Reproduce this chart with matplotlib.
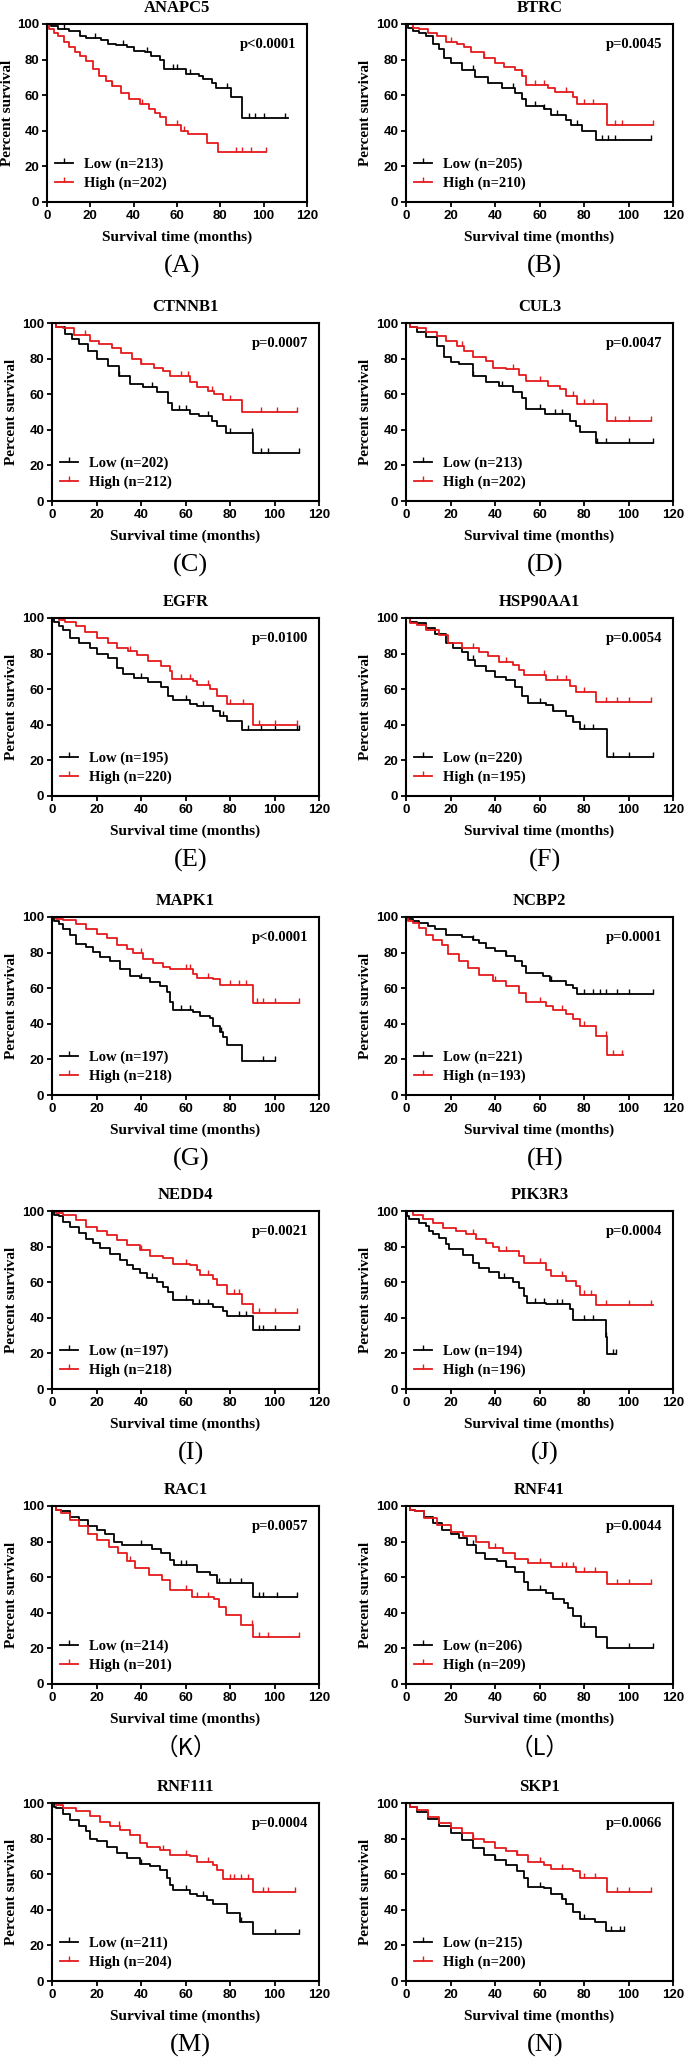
import numpy as np
import matplotlib
matplotlib.use("Agg")
import matplotlib.pyplot as plt
from matplotlib.lines import Line2D

# ---- data (time in months, percent survival) ----
ANAPC5_low_t = [0, 2, 5, 10, 15, 18, 25, 28, 32, 37, 40, 45, 48, 52, 54, 64, 70, 72, 76, 78, 85, 90, 111]
ANAPC5_low_s = [100, 99, 97, 96, 93, 92, 91, 89, 88, 87, 85, 84, 82, 80, 75, 72, 71, 69, 67, 64, 59, 47, 47]
ANAPC5_high_t = [0, 1, 3, 5, 8, 10, 13, 15, 18, 21, 24, 27, 30, 34, 38, 43, 47, 50, 52, 55, 62, 65, 74, 79, 101]
ANAPC5_high_s = [100, 97, 95, 93, 90, 87, 84, 82, 79, 75, 71, 68, 65, 61, 58, 55, 52, 50, 48, 43, 40, 38, 33, 28, 28]
ANAPC5_low_cens = [8, 22, 35, 46, 58, 60, 66, 83, 93, 96, 100, 110]
ANAPC5_high_cens = [30, 44, 60, 63, 87, 90, 94, 101]

BTRC_low_t = [0, 1, 3, 6, 9, 12, 15, 17, 20, 25, 31, 37, 43, 49, 52, 54, 62, 65, 72, 74, 79, 85.5, 110]
BTRC_low_s = [100, 98, 96, 95, 93, 89, 86, 81, 78, 74, 70, 67, 64, 61, 58, 54, 52, 49, 46, 43, 40, 35, 35]
BTRC_high_t = [0, 3, 6, 10, 14, 18, 23, 26, 29, 35, 40, 44, 49, 52, 54, 64, 67, 75, 77, 90.5, 111]
BTRC_high_s = [100, 98, 97, 95, 93, 90, 89, 87, 84, 81, 78, 76, 74, 71, 66, 64, 62, 59, 55, 43, 43]
BTRC_low_cens = [30, 48, 58, 62, 68, 77, 88, 91, 94, 110]
BTRC_high_cens = [20, 35, 52, 58, 62, 72, 80, 84, 94, 97, 111]

CTNNB1_low_t = [0, 2, 6, 9, 12, 16, 20, 25, 30, 35, 41, 47, 52, 54, 62, 66, 72, 74, 78, 90.5, 111]
CTNNB1_low_s = [100, 98, 94, 91, 88, 84, 80, 76, 70, 66, 64, 61, 55, 51, 49, 48, 45, 42, 38, 27, 27]
CTNNB1_high_t = [0, 2, 5, 10, 17, 21, 27, 31, 36, 40, 46, 50, 53, 62, 65, 70, 73, 77, 85.5, 110]
CTNNB1_high_s = [100, 98, 97, 93, 90, 88, 86, 83, 80, 77, 75, 73, 70, 67, 64, 62, 60, 57, 50, 50]
CTNNB1_low_cens = [30, 45, 57, 60, 70, 80, 90, 94, 97, 111]
CTNNB1_high_cens = [15, 40, 58, 61, 72, 80, 94, 101, 110]

CUL3_low_t = [0, 2, 5, 9, 14, 17, 20, 24, 30, 36, 42, 48, 52, 54, 62.5, 73.5, 76.5, 78, 85.5, 111]
CUL3_low_s = [100, 98, 95, 92, 87, 81, 78, 77, 70, 67, 64.5, 61, 58, 51.5, 48.7, 45, 42, 39, 32.5, 32.5]
CUL3_high_t = [0, 2, 5, 9, 14, 18, 23, 26, 30, 36, 39, 45, 51, 54, 64, 69, 72, 77, 90.5, 110]
CUL3_high_s = [100, 98, 97, 95, 92.5, 90, 87, 84, 81, 78.5, 75, 74, 71, 67.5, 64.5, 63, 59, 54.5, 45, 45]
CUL3_low_cens = [30, 43, 60, 67, 70, 86, 90, 100, 111]
CUL3_high_cens = [25, 48, 60, 75, 80, 84, 94, 100, 110]

EGFR_low_t = [0, 1, 3, 5, 8, 12, 17, 20, 25, 29, 32, 37, 43, 49, 52, 54.5, 62, 65, 72.5, 75.5, 78.5, 85.5, 111]
EGFR_low_s = [100, 98, 95.5, 93, 89, 86, 83, 79.5, 77.5, 72, 68.5, 66.5, 64, 61, 56, 54, 51.5, 50.5, 48, 45, 42, 37, 37]
EGFR_high_t = [0, 3, 6, 11, 15, 20, 25, 29, 34, 38, 43, 49, 53, 54, 63.5, 65, 71, 74, 78.5, 90.5, 110]
EGFR_high_s = [100, 99, 98, 95.5, 92, 89, 86, 83, 81.5, 79, 76, 73, 70, 66, 64.5, 62.5, 60, 56, 51.5, 40, 40]
EGFR_low_cens = [40, 60, 68, 77, 88, 94, 100, 110, 111]
EGFR_high_cens = [35, 58, 62, 70, 80, 86, 93, 100, 110]

HSP90AA1_low_t = [0, 2, 5, 9, 13, 18, 21, 25, 28, 31, 36, 40, 45, 49, 52, 55, 63, 66, 72, 75, 78, 90.5, 111]
HSP90AA1_low_s = [100, 98, 97, 94.5, 91, 86, 83, 81, 76.5, 73, 70, 67, 65, 61, 56, 52, 51, 48, 45, 41.5, 37.5, 22, 22]
HSP90AA1_high_t = [0, 2, 5, 9, 15, 19, 25, 33, 37, 42, 48, 51, 53, 63, 73.5, 76.5, 85.5, 110]
HSP90AA1_high_s = [100, 97, 96, 93.5, 90.5, 86, 83, 81, 78.5, 75.5, 73.5, 71, 68, 65, 62, 58.5, 53, 53]
HSP90AA1_low_cens = [30, 60, 66, 75, 80, 84, 93, 100, 111]
HSP90AA1_high_cens = [30, 45, 62, 68, 72, 80, 90, 95, 100, 110]

MAPK1_low_t = [0, 1, 3, 5, 8, 11, 15.5, 18.5, 21.5, 26, 30.5, 35, 39.5, 44, 48.5, 51.5, 53, 54.5, 63.5, 66.5, 71, 72.5, 75.5, 77, 78.5, 85.5, 100]
MAPK1_low_s = [100, 98, 96, 93.5, 90, 85, 83, 80.5, 77.5, 75, 71, 67, 65.5, 63.5, 61.5, 58, 52, 47.5, 46.5, 44.5, 43, 39, 35.5, 32.5, 28, 19, 19]
MAPK1_high_t = [0, 2, 5, 11, 15.5, 20, 24.5, 29, 33.5, 36.5, 41, 45.5, 50, 53, 63.5, 65, 72.5, 75.5, 90.5, 111]
MAPK1_high_s = [100, 99, 98.5, 96, 93.5, 90.5, 88, 84, 82, 79.5, 76.5, 74, 72, 71, 68, 66, 65, 62, 51.5, 51.5]
MAPK1_low_cens = [40, 58, 62, 76, 95, 100]
MAPK1_high_cens = [40, 60, 62, 70, 80, 84, 87, 92, 95, 100, 111]

NCBP2_low_t = [0, 1, 3, 6, 10, 13, 18, 25, 30, 33, 36, 40, 45, 49, 52, 54, 61.5, 64.5, 72, 75, 77, 111]
NCBP2_low_s = [100, 99, 98, 96.5, 95, 93, 90, 89, 87, 85.5, 82.5, 81, 78, 75, 72.5, 68.5, 67, 64, 62, 60, 57, 57]
NCBP2_high_t = [0, 1, 3, 6, 9, 12, 16, 19, 24, 28, 33, 39, 45, 51, 54, 63, 66, 72, 75, 78, 85.5, 90.5, 97.5]
NCBP2_high_s = [100, 98, 96.5, 94, 90, 87, 84.5, 79, 75, 71.5, 67.5, 64, 61, 57.5, 52.5, 50, 48, 45.5, 42.5, 39, 33, 22.5, 22.5]
NCBP2_low_cens = [30, 45, 65, 80, 84, 87, 90, 95, 100, 111]
NCBP2_high_cens = [40, 60, 70, 80, 90, 93, 97]

NEDD4_low_t = [0, 1, 3, 5, 8, 12, 15.5, 18.5, 21.5, 26, 30.5, 33.5, 36.5, 39.5, 42.5, 47, 50, 52, 54.5, 63.5, 72.5, 77, 78.5, 90.5, 111]
NEDD4_low_s = [100, 98, 97, 94, 91, 87.5, 84.5, 82, 79, 76, 72.5, 69.5, 67.5, 65, 62.5, 60, 57.5, 54.5, 50, 48, 46, 44, 41, 33, 33]
NEDD4_high_t = [0, 2, 5, 11, 15.5, 20, 24.5, 29, 33.5, 39.5, 44, 50, 54.5, 62, 65, 66.5, 72.5, 74, 78.5, 85.5, 90.5, 110]
NEDD4_high_s = [100, 99, 97.5, 95, 91, 88.5, 86.5, 83.5, 81, 78, 75, 73.5, 70.5, 69.5, 67, 64, 62, 58.5, 53.5, 48, 42.5, 42.5]
NEDD4_low_cens = [45, 60, 66, 70, 84, 87, 93, 95, 100, 111]
NEDD4_high_cens = [40, 60, 70, 82, 84, 93, 100, 110]

PIK3R3_low_t = [0, 0.5, 1.5, 6, 9, 10.5, 12, 15, 18, 19.5, 25.5, 30, 33, 37.5, 42, 48, 51, 53, 54.5, 63, 73.5, 75, 90, 90.5, 94.5]
PIK3R3_low_s = [100, 97, 95.5, 93.5, 91.5, 89, 87, 85, 81.5, 78.5, 75.5, 71, 68, 65.5, 62.5, 60, 57, 52, 48.5, 47.5, 45, 39, 29, 19.5, 19.5]
PIK3R3_high_t = [0, 3, 7.5, 12, 16.5, 22.5, 27, 31.5, 36, 39, 42, 51, 53, 63, 65, 72, 76.5, 78, 85.5, 111]
PIK3R3_high_s = [100, 98, 95.5, 93.5, 90.5, 89, 87, 84, 82, 79.5, 77.5, 74.5, 71, 67, 63.5, 60.5, 58, 53, 47, 47]
PIK3R3_low_cens = [44, 58, 62, 68, 70, 80, 84, 90, 93, 94.5]
PIK3R3_high_cens = [30, 45, 60, 70, 80, 83, 90, 100, 110]

RAC1_low_t = [0, 2, 4, 8, 12, 16, 20, 24, 28, 31.5, 45, 49, 53, 55, 65, 71, 74, 90.5, 110]
RAC1_low_s = [100, 98, 97, 94, 92, 89, 86.5, 84, 80, 78, 76, 73.5, 69.5, 67, 63, 61, 56.5, 49, 49]
RAC1_high_t = [0, 2, 4, 8, 12, 16, 20, 25.5, 29.5, 33.5, 37.5, 43.5, 49.5, 53, 63, 73, 75, 78, 85, 90.5, 111]
RAC1_high_s = [100, 98, 96, 92, 88.5, 84.5, 81, 77, 73.5, 69, 65, 61.5, 58.5, 53, 49, 47.5, 43.5, 39, 33, 26.5, 26.5]
RAC1_low_cens = [40, 58, 60, 75, 80, 85, 93, 95, 101, 110]
RAC1_high_cens = [35, 60, 65, 70, 90, 93, 97, 111]

RNF41_low_t = [0, 2, 4, 8, 12, 16, 20, 24, 27.5, 31.5, 35.5, 41, 45, 49, 53, 55, 63, 66, 71, 73, 75, 78.5, 85.5, 90.5, 111]
RNF41_low_s = [100, 98, 97, 94, 90.5, 86.5, 84.5, 82, 78, 73.5, 70.5, 69, 66, 63, 57.5, 53, 51, 47.5, 45.5, 42.5, 38, 32, 26.5, 20, 20]
RNF41_high_t = [0, 2, 4, 8, 14, 20, 25.5, 31.5, 37.5, 43.5, 49, 53, 55, 65, 76.5, 90.5, 110]
RNF41_high_s = [100, 98, 97, 93, 89.5, 85.5, 83, 80, 76.5, 73.5, 70.5, 70, 68, 65.5, 63, 56, 56]
RNF41_low_cens = [30, 45, 60, 80, 100, 111]
RNF41_high_cens = [40, 60, 70, 72, 75, 80, 85, 95, 100, 110]

RNF111_low_t = [0, 1, 2, 5, 8, 12, 15.5, 17, 20, 24.5, 29, 33.5, 39.5, 44, 48.5, 51.5, 53, 54.5, 62, 65, 69.5, 72.5, 78.5, 84.5, 90.5, 111]
RNF111_low_s = [100, 98, 97, 94, 90.5, 87, 84, 80, 78.5, 75.5, 72, 69, 66, 64.5, 62.5, 58, 54, 51, 49, 47.5, 45.5, 43, 38, 33, 26.5, 26.5]
RNF111_high_t = [0, 2, 5, 11, 17, 21.5, 26, 30.5, 35, 39.5, 42.5, 48.5, 53, 62, 65, 72.5, 74, 77, 90.5, 109]
RNF111_high_s = [100, 99, 97, 95.5, 92.5, 89.5, 87, 85, 82, 77.5, 75.5, 73.5, 71, 70, 67, 65, 62.5, 57.5, 50, 50]
RNF111_low_cens = [40, 60, 68, 85, 100, 111]
RNF111_high_cens = [30, 50, 60, 70, 80, 82, 85, 88, 95, 97, 109]

SKP1_low_t = [0, 2, 5, 10, 15, 20, 25, 30, 35, 40, 45, 50, 53, 55, 62, 65, 70, 72, 75, 78, 85, 90, 98]
SKP1_low_s = [100, 98, 95, 91, 87, 83, 79, 75, 71, 68, 65, 62, 58, 53, 52, 49, 46, 43, 39, 35, 33, 28, 28]
SKP1_high_t = [0, 2, 5, 10, 15, 20, 25, 30, 35, 40, 45, 50, 55, 62, 65, 75, 78, 90.5, 110]
SKP1_high_s = [100, 98, 96, 92, 89, 86, 83, 80, 78, 75, 73, 71, 67, 65, 63, 62, 58, 50, 50]
SKP1_low_cens = [40, 60, 70, 80, 92, 96, 98]
SKP1_high_cens = [30, 50, 60, 70, 80, 85, 95, 100, 110]

genes = ["ANAPC5", "BTRC", "CTNNB1", "CUL3", "EGFR", "HSP90AA1", "MAPK1",
         "NCBP2", "NEDD4", "PIK3R3", "RAC1", "RNF41", "RNF111", "SKP1"]
p_values = ["p<0.0001", "p=0.0045", "p=0.0007", "p=0.0047", "p=0.0100", "p=0.0054", "p<0.0001",
            "p=0.0001", "p=0.0021", "p=0.0004", "p=0.0057", "p=0.0044", "p=0.0004", "p=0.0066"]
n_low = [213, 205, 202, 213, 195, 220, 197, 221, 197, 194, 214, 206, 211, 215]
n_high = [202, 210, 212, 202, 220, 195, 218, 193, 218, 196, 201, 209, 204, 200]
panel_tags = ["(A)", "(B)", "(C)", "(D)", "(E)", "(F)", "(G)",
              "(H)", "(I)", "(J)", "（K）", "（L）", "(M)", "(N)"]

curves = {
    "ANAPC5": (ANAPC5_low_t, ANAPC5_low_s, ANAPC5_low_cens, ANAPC5_high_t, ANAPC5_high_s, ANAPC5_high_cens),
    "BTRC": (BTRC_low_t, BTRC_low_s, BTRC_low_cens, BTRC_high_t, BTRC_high_s, BTRC_high_cens),
    "CTNNB1": (CTNNB1_low_t, CTNNB1_low_s, CTNNB1_low_cens, CTNNB1_high_t, CTNNB1_high_s, CTNNB1_high_cens),
    "CUL3": (CUL3_low_t, CUL3_low_s, CUL3_low_cens, CUL3_high_t, CUL3_high_s, CUL3_high_cens),
    "EGFR": (EGFR_low_t, EGFR_low_s, EGFR_low_cens, EGFR_high_t, EGFR_high_s, EGFR_high_cens),
    "HSP90AA1": (HSP90AA1_low_t, HSP90AA1_low_s, HSP90AA1_low_cens, HSP90AA1_high_t, HSP90AA1_high_s, HSP90AA1_high_cens),
    "MAPK1": (MAPK1_low_t, MAPK1_low_s, MAPK1_low_cens, MAPK1_high_t, MAPK1_high_s, MAPK1_high_cens),
    "NCBP2": (NCBP2_low_t, NCBP2_low_s, NCBP2_low_cens, NCBP2_high_t, NCBP2_high_s, NCBP2_high_cens),
    "NEDD4": (NEDD4_low_t, NEDD4_low_s, NEDD4_low_cens, NEDD4_high_t, NEDD4_high_s, NEDD4_high_cens),
    "PIK3R3": (PIK3R3_low_t, PIK3R3_low_s, PIK3R3_low_cens, PIK3R3_high_t, PIK3R3_high_s, PIK3R3_high_cens),
    "RAC1": (RAC1_low_t, RAC1_low_s, RAC1_low_cens, RAC1_high_t, RAC1_high_s, RAC1_high_cens),
    "RNF41": (RNF41_low_t, RNF41_low_s, RNF41_low_cens, RNF41_high_t, RNF41_high_s, RNF41_high_cens),
    "RNF111": (RNF111_low_t, RNF111_low_s, RNF111_low_cens, RNF111_high_t, RNF111_high_s, RNF111_high_cens),
    "SKP1": (SKP1_low_t, SKP1_low_s, SKP1_low_cens, SKP1_high_t, SKP1_high_s, SKP1_high_cens),
}

LOW_COLOR = "#000000"
HIGH_COLOR = "#e41a1c"
SERIF = "Liberation Serif"

plt.rcParams["font.family"] = ["Liberation Sans", "DejaVu Sans"]
plt.rcParams["font.weight"] = "bold"

W, H = 685, 2058
fig = plt.figure(figsize=(W / 100, H / 100), dpi=100)

col_x = [(52, 319), (406, 673)]
row_top = [24, 323, 618, 917, 1211, 1506, 1803]
ax_h = 178


def draw_km(ax, t, s, cens, color):
    t = np.asarray(t, dtype=float)
    s = np.asarray(s, dtype=float)
    ax.step(t, s, where="post", color=color, lw=1.3)
    c = np.asarray(cens, dtype=float)
    idx = np.searchsorted(t, c, side="right") - 1
    ax.plot(c, s[idx], linestyle="none", marker=2, ms=3.5, mew=1.0, color=color)


for i, gene in enumerate(genes):
    r, c = divmod(i, 2)
    left, right = col_x[c]
    if i == 0:
        left, right = 47, 307
    ax = fig.add_axes([left / W, 1 - (row_top[r] + ax_h) / H, (right - left) / W, ax_h / H])

    lt, ls, lc, ht, hs, hc = curves[gene]
    draw_km(ax, lt, ls, lc, LOW_COLOR)
    draw_km(ax, ht, hs, hc, HIGH_COLOR)

    ax.set_xlim(0, 120)
    ax.set_ylim(0, 100)
    ax.set_xticks(range(0, 121, 20))
    ax.set_yticks(range(0, 101, 20))
    ax.tick_params(direction="out", length=3.5, width=1.3, labelsize=9.5, pad=2,
                   top=False, right=False)
    for sp in ax.spines.values():
        sp.set_linewidth(1.5)
        sp.set_color("black")

    ax.set_xlabel("Survival time (months)", family=SERIF, fontsize=11, fontweight="bold")
    ax.set_ylabel("Percent survival", family=SERIF, fontsize=11, fontweight="bold")
    ax.xaxis.label.set_va("center")
    ax.yaxis.label.set_va("center")
    ax.xaxis.set_label_coords(0.5, -0.197)
    ax.yaxis.set_label_coords(-0.15, 0.5)

    ax.text(0.5, 1.09, gene, transform=ax.transAxes, ha="center", va="center",
            family=SERIF, fontsize=12, fontweight="bold")
    ax.text(0.96, 0.885, p_values[i], transform=ax.transAxes, ha="right", va="center",
            family=SERIF, fontsize=10.5, fontweight="bold")

    handles = [Line2D([0], [0], color=LOW_COLOR, lw=1.3, marker=2, ms=3.5, mew=1.0),
               Line2D([0], [0], color=HIGH_COLOR, lw=1.3, marker=2, ms=3.5, mew=1.0)]
    labels = [f"Low (n={n_low[i]})", f"High (n={n_high[i]})"]
    ax.legend(handles, labels, loc="lower left", bbox_to_anchor=(0.03, 0.065),
              frameon=False, borderpad=0, borderaxespad=0, numpoints=1,
              handlelength=1.25, handletextpad=0.75, labelspacing=0.4,
              prop={"family": SERIF, "size": 10.5, "weight": "bold"})

    tag = panel_tags[i]
    if tag.startswith("（"):
        ax.text(0.5, -0.36, tag, transform=ax.transAxes, ha="center", va="center",
                family=["Noto Sans CJK SC", "DejaVu Sans"], fontsize=17, fontweight="normal")
    else:
        ax.text(0.52, -0.36, tag, transform=ax.transAxes, ha="center", va="center",
                family=SERIF, fontsize=19, fontweight="normal")

fig.savefig("out.png", dpi=100)
